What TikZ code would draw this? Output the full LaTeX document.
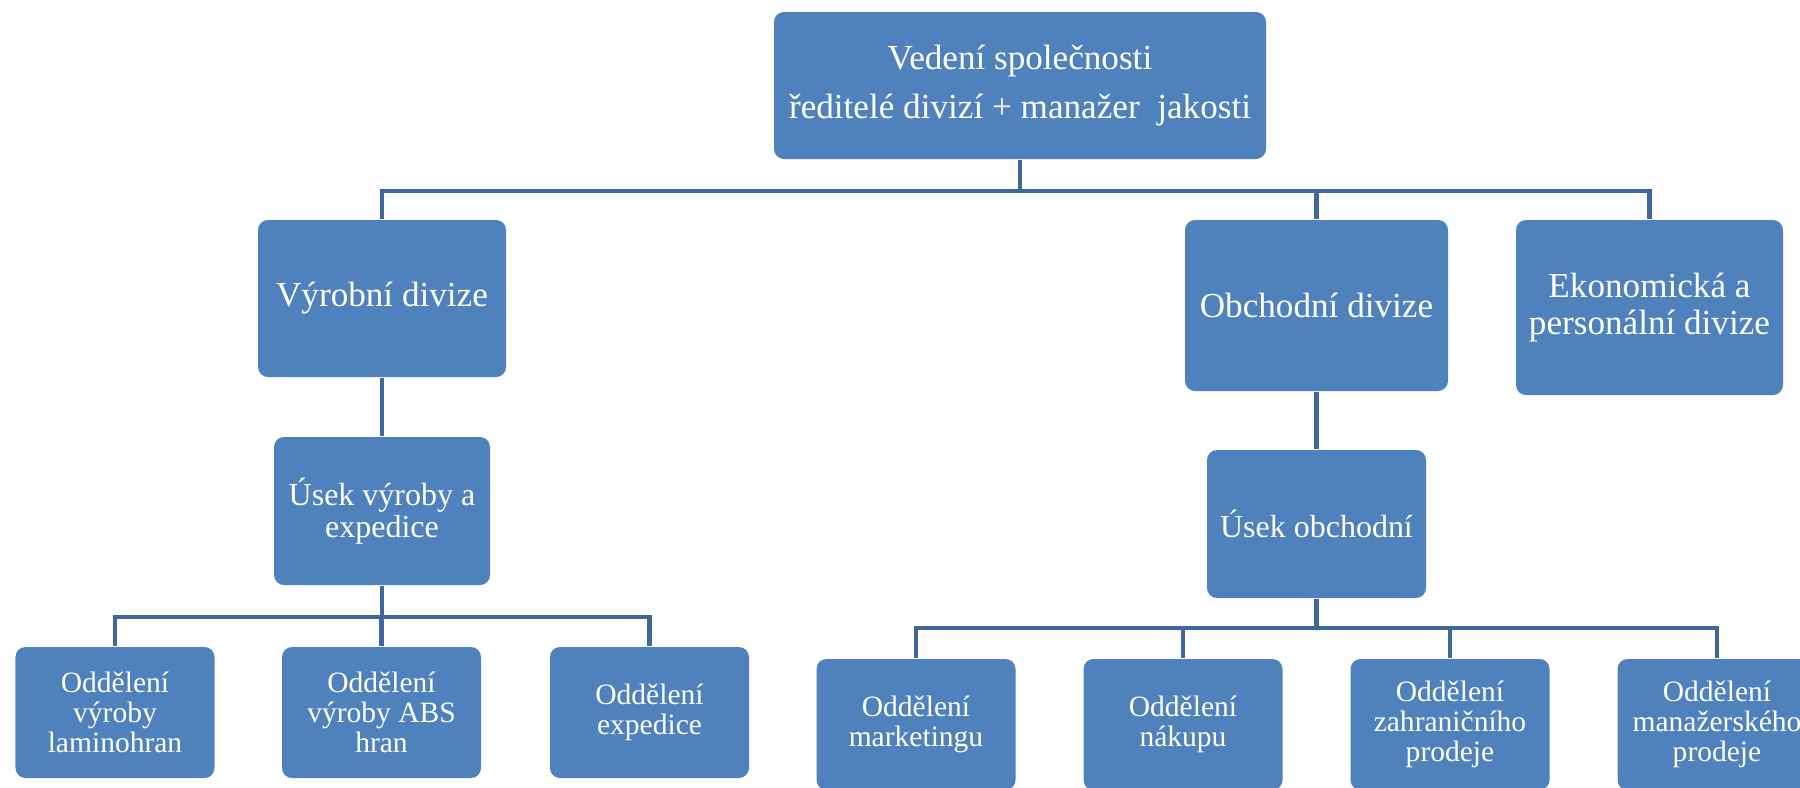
\documentclass[tikz,border=0pt]{standalone}
\usepackage{fontspec}
\setmainfont{Liberation Serif}
\definecolor{boxblue}{HTML}{4F81BD}
\definecolor{lineblue}{RGB}{63,103,158}
\begin{document}
\begin{tikzpicture}[
    unit/.style={rectangle, rounded corners=0.1cm, fill=boxblue, text=white, align=center, inner sep=0pt},
    bigunit/.style={unit, font=\fontsize{10}{10.5}\selectfont},
    midunit/.style={unit, font=\fontsize{9.1}{9.1}\selectfont},
    dept/.style={unit, font=\fontsize{8.4}{8.5}\selectfont, minimum width=1.99cm, minimum height=1.31cm},
    conn/.style={draw=lineblue, line width=1.15pt}
  ]
    \useasboundingbox (0,0) rectangle (18,-7.87);
    \clip (0,0) rectangle (18,-7.87);
    \node[unit, font=\fontsize{10}{14.2}\selectfont, minimum width=4.92cm, minimum height=1.47cm] (vedeni) at (10.20,-0.855) {Vedení společnosti\\ředitelé divizí + manažer\ \ jakosti};
    \node[bigunit, minimum width=2.48cm, minimum height=1.57cm] (vyrdiv) at (3.82,-2.985) {Výrobní divize};
    \node[bigunit, minimum width=2.63cm, minimum height=1.71cm] (obchdiv) at (13.165,-3.055) {Obchodní divize};
    \node[bigunit, minimum width=2.67cm, minimum height=1.75cm] (ekodiv) at (16.495,-3.075) {Ekonomická a\\personální divize};
    \node[midunit, minimum width=2.16cm, minimum height=1.48cm] (usekvyr) at (3.82,-5.11) {Úsek výroby a\\expedice};
    \node[midunit, minimum width=2.19cm, minimum height=1.48cm] (usekobch) at (13.165,-5.24) {Úsek obchodní};
    \node[dept] (odlam) at (1.15,-7.125) {Oddělení\\výroby\\laminohran};
    \node[dept] (odabs) at (3.815,-7.125) {Oddělení\\výroby ABS\\hran};
    \node[dept] (odexp) at (6.495,-7.125) {Oddělení\\expedice};
    \node[dept] (odmark) at (9.16,-7.245) {Oddělení\\marketingu};
    \node[dept] (odnak) at (11.83,-7.245) {Oddělení\\nákupu};
    \node[dept] (odzahr) at (14.50,-7.245) {Oddělení\\zahraničního\\prodeje};
    \node[dept] (odman) at (17.17,-7.245) {Oddělení\\manažerského\\prodeje};
    \foreach \child in {vyrdiv,obchdiv,ekodiv}
        \draw[conn] (vedeni.south) -- ++(0,-0.31) -| (\child.north);
    \draw[conn] (vyrdiv.south) -- (usekvyr.north);
    \draw[conn] (obchdiv.south) -- (usekobch.north);
    \foreach \child in {odlam,odabs,odexp}
        \draw[conn] (usekvyr.south) -- ++(0,-0.31) -| (\child.north);
    \foreach \child in {odmark,odnak,odzahr,odman}
        \draw[conn] (usekobch.south) -- ++(0,-0.29) -| (\child.north);
  \end{tikzpicture}
\end{document}
